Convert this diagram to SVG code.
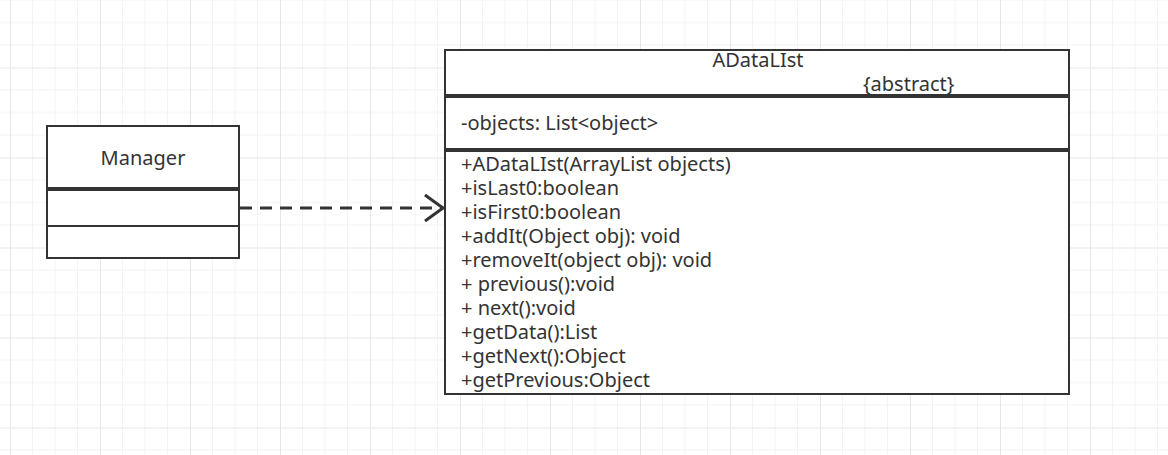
<svg xmlns="http://www.w3.org/2000/svg" width="1168" height="455" viewBox="0 0 1168 455">
  <style>
    .box { fill: #ffffff; stroke: #333333; stroke-width: 2; }
    .txt { font-family: "Noto Sans", "Noto Sans CJK SC", sans-serif; font-size: 20px; fill: #333333; }
    .edge { fill: none; stroke: #333333; stroke-width: 3; }
  </style>
  <defs>
    <pattern id="grid" patternUnits="userSpaceOnUse" x="10" y="67.5" width="90" height="90">
      <path d="M22.5 0V90M45 0V90M67.5 0V90M0 22.5H90M0 45H90M0 67.5H90" stroke="#f3f3f3" stroke-width="1" fill="none"/>
      <path d="M0.5 0V90M0 0.5H90" stroke="#e6e6e6" stroke-width="1" fill="none"/>
    </pattern>
  </defs>
  <rect x="0" y="0" width="1168" height="455" fill="#ffffff"/>
  <rect x="0" y="0" width="1168" height="455" fill="url(#grid)"/>

  <g id="manager">
    <rect class="box" x="47" y="126" width="192" height="62"/>
    <rect class="box" x="47" y="190" width="192" height="36"/>
    <rect class="box" x="47" y="226" width="192" height="32"/>
    <text class="txt" x="143" y="165" text-anchor="middle">Manager</text>
  </g>

  <g id="adatalist">
    <rect class="box" x="445" y="50" width="624" height="45"/>
    <rect class="box" x="445" y="97" width="624" height="52"/>
    <rect class="box" x="445" y="151" width="624" height="243"/>
    <text class="txt" x="758" y="67" text-anchor="middle">ADataLIst</text>
    <text class="txt" x="863" y="91">{abstract}</text>
    <text class="txt" x="461" y="130">-objects: List&lt;object&gt;</text>
    <text class="txt" x="461" y="171">+ADataLIst(ArrayList objects)</text>
    <text class="txt" x="461" y="195">+isLast0:boolean</text>
    <text class="txt" x="461" y="219">+isFirst0:boolean</text>
    <text class="txt" x="461" y="243">+addIt(Object obj): void</text>
    <text class="txt" x="461" y="267">+removeIt(object obj): void</text>
    <text class="txt" x="461" y="291">+ previous():void</text>
    <text class="txt" x="461" y="315">+ next():void</text>
    <text class="txt" x="461" y="339">+getData():List</text>
    <text class="txt" x="461" y="363">+getNext():Object</text>
    <text class="txt" x="461" y="387">+getPrevious:Object</text>
  </g>

  <g id="connectors">
    <path class="edge" d="M240 208H441" stroke-dasharray="12 8"/>
    <path class="edge" d="M425 195L443 208L425 221"/>
  </g>
</svg>
